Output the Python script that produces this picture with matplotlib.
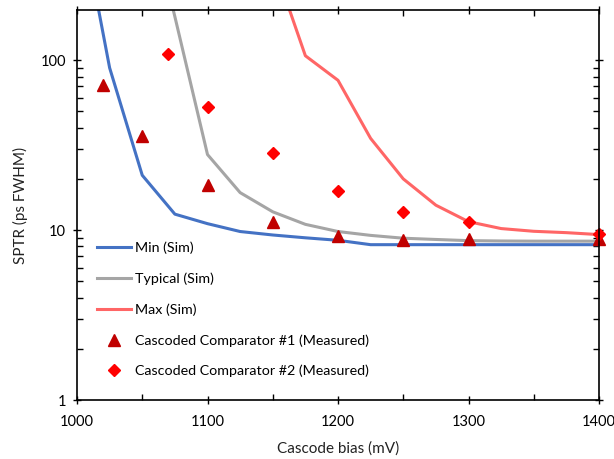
import matplotlib
matplotlib.use("Agg")
import matplotlib.pyplot as plt
from matplotlib.ticker import LogLocator, MultipleLocator, FixedLocator, NullFormatter, FuncFormatter

plt.rcParams['font.family'] = ['Lato', 'DejaVu Sans']

# Simulated curves (mV, ps FWHM)
sim_x = [1000, 1025, 1050, 1075, 1100, 1125, 1150, 1175, 1200, 1225, 1250, 1275, 1300, 1325, 1350, 1375, 1400]
min_sim = [920, 90, 21, 12.4, 10.9, 9.8, 9.35, 9.0, 8.7, 8.2, 8.2, 8.2, 8.2, 8.2, 8.2, 8.2, 8.2]
typ_sim = [6000, 1100, 1100, 180, 27.8, 16.6, 12.8, 10.8, 9.8, 9.3, 8.95, 8.8, 8.66, 8.62, 8.6, 8.6, 8.6]
max_sim = [20000, 8000, 3000, 1500, 900, 600, 380, 106, 76, 34.6, 20, 14.0, 11.2, 10.2, 9.83, 9.65, 9.4]

# Measured data
m1_x = [1020, 1050, 1100, 1150, 1200, 1250, 1300, 1400]
m1_y = [71.5, 35.7, 18.4, 11.1, 9.25, 8.7, 8.85, 8.9]
m2_x = [1070, 1100, 1150, 1200, 1250, 1300, 1400]
m2_y = [108, 52.7, 28.5, 16.9, 12.8, 11.1, 9.45]

fig = plt.figure(figsize=(6.14, 4.59), dpi=100)
ax = fig.add_axes([77/614, 59/459, 522/614, 390/459])

ax.plot(sim_x, min_sim, color='#4472C4', lw=2.2, label='Min (Sim)')
ax.plot(sim_x, typ_sim, color='#A5A5A5', lw=2.2, label='Typical (Sim)')
ax.plot(sim_x, max_sim, color='#FF6666', lw=2.2, label='Max (Sim)')
ax.plot(m1_x, m1_y, linestyle='none', marker='^', markersize=8.5, color='#C00000',
        label='Cascoded Comparator #1 (Measured)', clip_on=False)
ax.plot(m2_x, m2_y, linestyle='none', marker='D', markersize=6.3, color='#FF0000',
        label='Cascoded Comparator #2 (Measured)', clip_on=False)

ax.set_yscale('log')
ax.set_xlim(1000, 1400)
ax.set_ylim(1, 197)
ax.xaxis.set_major_locator(MultipleLocator(100))
ax.xaxis.set_minor_locator(MultipleLocator(50))
ax.yaxis.set_major_locator(FixedLocator([1, 10, 100]))
ax.yaxis.set_major_formatter(FuncFormatter(lambda v, p: f"{v:g}"))
ax.yaxis.set_minor_locator(LogLocator(base=10, subs=range(2, 10)))
ax.yaxis.set_minor_formatter(NullFormatter())

ax.tick_params(which='major', direction='inout', length=6, width=1, top=True, right=True,
               labelsize=10.5, colors='black')
ax.tick_params(axis='y', which='major', pad=5)
ax.tick_params(axis='x', which='major', pad=8)
ax.tick_params(which='minor', direction='in', length=4, width=1, top=True, right=True)
for s in ax.spines.values():
    s.set_linewidth(1.2)

ax.set_xlabel('Cascode bias (mV)', fontsize=11, labelpad=9, color='#222222')
ax.set_ylabel('SPTR (ps FWHM)', fontsize=11, color='#222222')
ax.yaxis.set_label_coords(-0.094, 0.5)

leg = ax.legend(loc='lower left', bbox_to_anchor=(0.013, 0.025), frameon=False, fontsize=10.3,
                labelspacing=1.28, handlelength=2.4, handletextpad=0.3, numpoints=1)

fig.savefig('out.png', dpi=100)
